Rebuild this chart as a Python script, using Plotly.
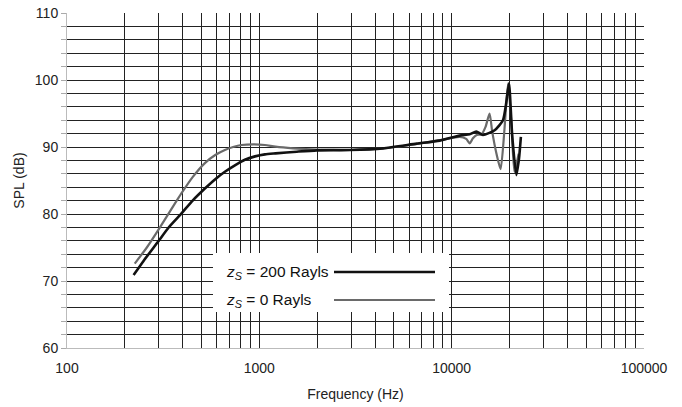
import plotly.graph_objects as go

# ---- data ----
freq_200 = [222, 250, 298, 340, 394, 450, 521, 590, 662, 750, 841, 950, 1069, 1214, 1567, 1990,
            2950, 4390, 6580, 8670, 11000, 12400, 13430, 14540, 16720, 18480, 19200,
            19860, 20660, 21700, 22400, 22900]
spl_200 = [70.9, 73.0, 75.9, 78.1, 80.1, 82.0, 83.8, 85.2, 86.3, 87.3, 88.1, 88.6, 88.9, 89.05, 89.3, 89.5,
           89.55, 89.8, 90.5, 90.95, 91.7, 91.9, 92.3, 91.8, 92.5, 94.0, 96.5,
           99.5, 91.5, 85.8, 88.3, 91.5]

freq_0 = [225, 260, 298, 345, 394, 450, 521, 590, 662, 730, 808, 940, 1069, 1214, 1500, 2000, 3000,
          4400, 6600, 9000, 11000, 11900, 12400, 12900, 13500, 14300, 15000, 15740, 16250,
          17100, 17970, 18800, 19640, 20500, 21200, 22300]
spl_0 = [72.6, 75.0, 77.6, 80.5, 83.1, 85.5, 87.6, 88.8, 89.55, 90.0, 90.3, 90.4, 90.3, 90.05, 89.8, 89.6, 89.55,
         89.8, 90.45, 91.1, 91.5, 91.2, 90.55, 91.3, 91.8, 91.9, 93.0, 95.0, 92.3,
         89.0, 86.7, 92.5, 99.5, 93.0, 86.3, 89.0]

x_ticks = [100, 1000, 10000, 100000]
x_minor = [m * d for d in (100, 1000, 10000) for m in range(2, 10)]
y_ticks = [60, 70, 80, 90, 100, 110]

legend_labels = ["<i>z</i><sub><i>S</i></sub> = 200 Rayls", "<i>z</i><sub><i>S</i></sub> = 0 Rayls"]
colors = ["#111111", "#6a6a6a"]
widths = [2.6, 2.2]

FONT = "Liberation Sans, Arial, sans-serif"

fig = go.Figure()
fig.add_trace(go.Scatter(x=freq_0, y=spl_0, mode="lines", name=legend_labels[1],
                         line=dict(color=colors[1], width=widths[1], shape="spline", smoothing=0.6),
                         showlegend=False))
fig.add_trace(go.Scatter(x=freq_200, y=spl_200, mode="lines", name=legend_labels[0],
                         line=dict(color=colors[0], width=widths[0], shape="spline", smoothing=0.6),
                         showlegend=False))

grid_col = "#222222"
fig.update_xaxes(type="log", range=[2, 5], tickvals=x_ticks, ticktext=[str(v) for v in x_ticks],
                 showgrid=True, gridcolor=grid_col, gridwidth=1.4,
                 minor=dict(tickvals=x_minor, showgrid=True, gridcolor=grid_col, gridwidth=1.4, ticks=""),
                 showline=True, linecolor="#bbbbbb", linewidth=1, mirror=False,
                 ticks="outside", ticklen=7, tickcolor="rgba(0,0,0,0)",
                 tickfont=dict(family=FONT, size=14, color="#222"),
                 title=dict(text="Frequency (Hz)", font=dict(family=FONT, size=14, color="#222"), standoff=14),
                 zeroline=False, automargin=False)
fig.update_yaxes(range=[60, 110], tickvals=y_ticks, showgrid=True, gridcolor=grid_col, gridwidth=1.4,
                 minor=dict(dtick=2, showgrid=True, gridcolor=grid_col, gridwidth=1.4,
                            ticks="outside", ticklen=5, tickcolor="#aaaaaa"),
                 showline=True, linecolor="#bbbbbb", linewidth=1,
                 ticks="outside", ticklen=5, tickcolor="#aaaaaa",
                 tickfont=dict(family=FONT, size=14, color="#222"),
                 title=dict(text="SPL (dB)", font=dict(family=FONT, size=14, color="#222"), standoff=6),
                 zeroline=False, automargin=False)

# custom legend (text left, line sample right) on a white box
def px_x(p):
    return (p - 67) / (644 - 67)

def px_y(p):
    return 1 - (p - 13) / (348 - 13)

shapes = [dict(type="rect", xref="paper", yref="paper", x0=px_x(213), x1=px_x(449),
               y0=px_y(312), y1=px_y(253), fillcolor="white", line=dict(width=0), layer="above")]
annotations = []
for i, (lab, yp) in enumerate(zip(legend_labels, [272, 300])):
    shapes.append(dict(type="line", xref="paper", yref="paper", x0=px_x(334), x1=px_x(435),
                       y0=px_y(yp), y1=px_y(yp), line=dict(color=colors[i], width=widths[i]),
                       layer="above"))
    annotations.append(dict(xref="paper", yref="paper", x=px_x(224), y=px_y(yp), text=lab,
                            showarrow=False, xanchor="left", yanchor="middle",
                            font=dict(family=FONT, size=15.5, color="#111")))

fig.update_layout(width=682, height=407, margin=dict(l=67, r=38, t=13, b=59),
                  paper_bgcolor="white", plot_bgcolor="white",
                  shapes=shapes, annotations=annotations, showlegend=False)

fig.write_html("out.html")
